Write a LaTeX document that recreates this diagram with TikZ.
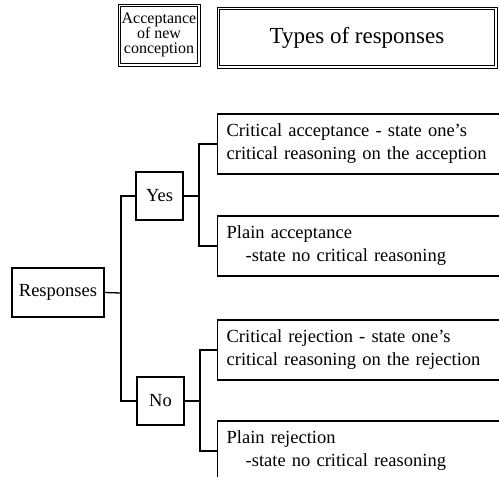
\documentclass[tikz,border=0pt]{standalone}
\usepackage{fontspec}
\setmainfont{Liberation Serif}
\begin{document}
\begin{tikzpicture}[x=1pt,y=-1pt,
  box/.style={draw, line width=1.3pt, inner sep=0pt, font=\fontsize{18.5}{23}\selectfont},
  rbox/.style={draw, line width=1.3pt, anchor=west, minimum height=60pt, text width=290pt,
    inner xsep=9pt, inner ysep=0pt, align=left, font=\fontsize{18.5}{23}\selectfont},
  hbox/.style={draw, line width=0.8pt, inner sep=0pt},
  conn/.style={line width=1.3pt}]
\useasboundingbox (0,0) rectangle (499,477);
\clip (0,0) rectangle (499,477);

% header
\node[hbox, minimum width=82pt, minimum height=62pt, align=center,
  font=\fontsize{16}{15}\selectfont] (acc) at (159,35) {Acceptance\\of new\\conception};
\draw[line width=1.3pt] ([shift={(3,3)}]acc.north west) rectangle ([shift={(-3,-3)}]acc.south east);
\node[hbox, minimum width=280pt, minimum height=61pt, font=\fontsize{23}{26}\selectfont]
  (types) at (357,37.5) {Types of responses};
\draw[line width=1.3pt] ([shift={(3,3)}]types.north west) rectangle ([shift={(-3,-3)}]types.south east);

% tree
\node[box, minimum width=92pt, minimum height=49pt] (resp) at (58,292.5) {Responses};
\node[box, minimum width=47pt, minimum height=48pt] (yes) at (159.5,196) {Yes};
\node[box, minimum width=47pt, minimum height=48pt] (no) at (160.5,401) {No};

\node[rbox] (ca) at (217,144) {Critical acceptance - state one’s\\critical reasoning on the acception};
\node[rbox] (pa) at (217,246) {Plain acceptance\\\hspace*{19pt}-state no critical reasoning};
\node[rbox] (cr) at (217,350) {Critical rejection - state one’s\\critical reasoning on the rejection};
\node[rbox] (pr) at (217,451) {Plain rejection\\\hspace*{19pt}-state no critical reasoning};

\coordinate (j1) at (121,293);
\coordinate (j2) at (199,196);
\coordinate (j3) at (200,401);

\draw[conn] (resp.east) -- (j1);
\draw[conn] (yes.west) -| (j1) |- (no.west);
\draw[conn] (yes.east) -- (j2);
\draw[conn] (ca.west) -| (j2) |- (pa.west);
\draw[conn] (no.east) -- (j3);
\draw[conn] (cr.west) -| (j3) |- (pr.west);
\end{tikzpicture}
\end{document}
